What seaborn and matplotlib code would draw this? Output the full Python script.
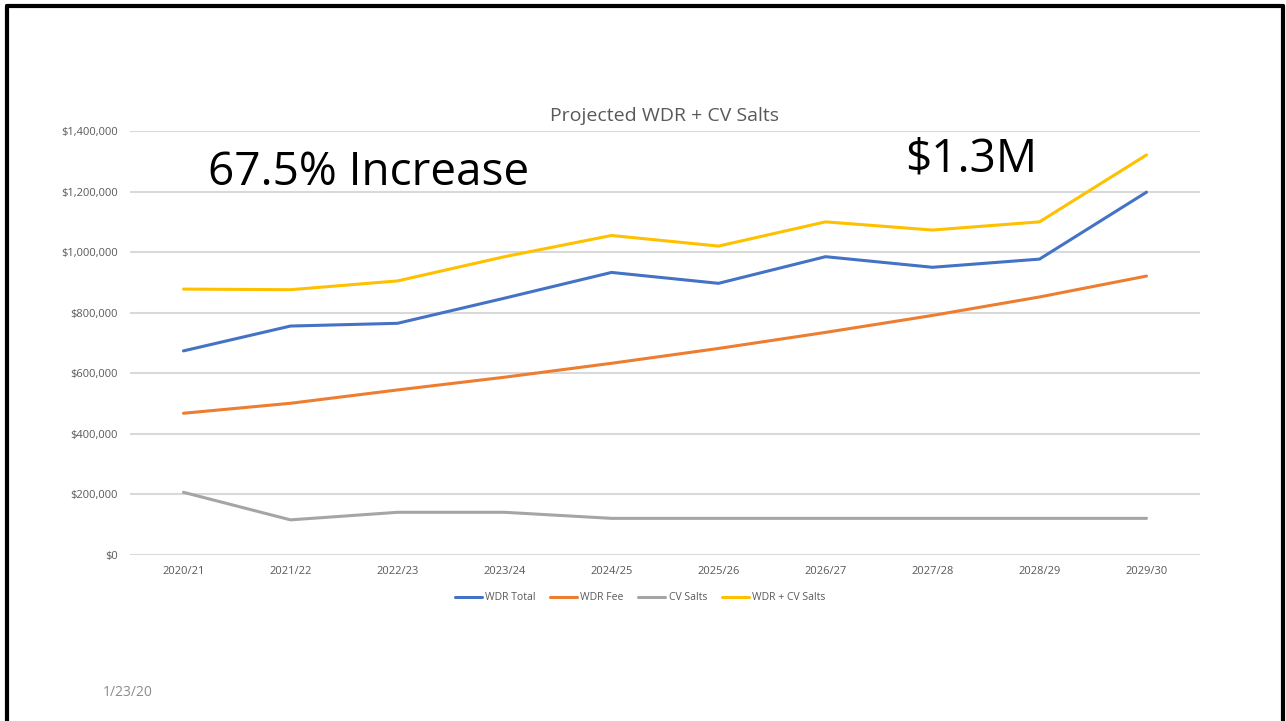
import matplotlib
matplotlib.use("Agg")
import matplotlib.pyplot as plt
from matplotlib.lines import Line2D
from matplotlib.ticker import FuncFormatter, MultipleLocator
import numpy as np
import pandas as pd
import seaborn as sns

# ---- data ----
years = ["2020/21", "2021/22", "2022/23", "2023/24", "2024/25",
         "2025/26", "2026/27", "2027/28", "2028/29", "2029/30"]
wdr_total = [674000, 756000, 765000, 848000, 933000, 897000, 985000, 950000, 977000, 1198000]
wdr_fee = [468000, 501000, 545000, 587000, 633000, 682000, 735000, 791000, 852000, 921000]
cv_salts = [207000, 116000, 141000, 141000, 121000, 121000, 121000, 121000, 121000, 121000]
wdr_cv = [878000, 876000, 905000, 985000, 1055000, 1020000, 1100000, 1073000, 1100000, 1321000]
series_names = ["WDR Total", "WDR Fee", "CV Salts", "WDR + CV Salts"]
series_colors = ["#4472C4", "#ED7D31", "#A5A5A5", "#FFC000"]

title = "Projected WDR + CV Salts"
note_left = "67.5% Increase"
note_right = "$1.3M"
date_text = "1/23/20"

# ---- frame ----
rows = []
for name, vals in zip(series_names, [wdr_total, wdr_fee, cv_salts, wdr_cv]):
    for i, v in enumerate(vals):
        rows.append({"idx": i, "year": years[i], "value": v, "series": name})
df = pd.DataFrame(rows)

sns.set_theme(style="white")
plt.rcParams['font.family'] = ['Open Sans', 'DejaVu Sans']

W, H = 1286, 721
fig = plt.figure(figsize=(W / 100, H / 100), dpi=100)
ax = fig.add_axes([130 / W, 1 - 555 / H, (1200 - 130) / W, (555 - 131) / H])

sns.lineplot(data=df, x="idx", y="value", hue="series", hue_order=series_names,
             palette=series_colors, linewidth=2.2, sort=False, ax=ax,
             legend=False, zorder=3)

ax.set_xlim(-0.5, len(years) - 0.5)
ax.set_ylim(0, 1400000)
ax.yaxis.set_major_locator(MultipleLocator(200000))
ax.yaxis.set_major_formatter(FuncFormatter(lambda v, p: "$0" if v == 0 else f"${v:,.0f}"))
ax.set_xticks(range(len(years)))
ax.set_xticklabels(years)
ax.grid(axis="y", color="#D9D9D9", linewidth=1.5, zorder=0)
ax.grid(axis="x", visible=False)
for s in ax.spines.values():
    s.set_visible(False)
ax.tick_params(axis="both", length=0, labelsize=8, labelcolor="#595959")
ax.tick_params(axis="y", pad=9)
ax.tick_params(axis="x", pad=8)
ax.set_xlabel("")
ax.set_ylabel("")

# title
fig.text(665 / W, 1 - 116 / H, title, ha="center", va="center", fontsize=14, color="#595959")

# annotations
fig.text(208 / W, 1 - 173 / H, note_left, ha="left", va="center", fontsize=33, color="black")
fig.text(905 / W, 1 - 160 / H, note_right, ha="left", va="center", fontsize=33, color="black")

# date
fig.text(103 / W, 1 - 693 / H, date_text, ha="left", va="center", fontsize=10, color="#8C8C8C")

# legend
handles = [Line2D([0], [0], color=c, linewidth=2.2) for c in series_colors]
fig.legend(handles, series_names, loc="center", bbox_to_anchor=(640 / W, 1 - 598 / H),
           ncol=4, frameon=False, fontsize=7.5, handlelength=2.6, handletextpad=0.3,
           columnspacing=1.4, labelcolor="#595959")

# slide border
lw = 3
fig.add_artist(Line2D([7 / W, 7 / W], [0, 1 - 6 / H], color="black", linewidth=lw, transform=fig.transFigure))
fig.add_artist(Line2D([7 / W, 1283 / W], [1 - 6 / H, 1 - 6 / H], color="black", linewidth=lw, transform=fig.transFigure))
fig.add_artist(Line2D([1283 / W, 1283 / W], [0, 1 - 6 / H], color="black", linewidth=lw, transform=fig.transFigure))

fig.savefig("out.png", dpi=100, facecolor="white")
